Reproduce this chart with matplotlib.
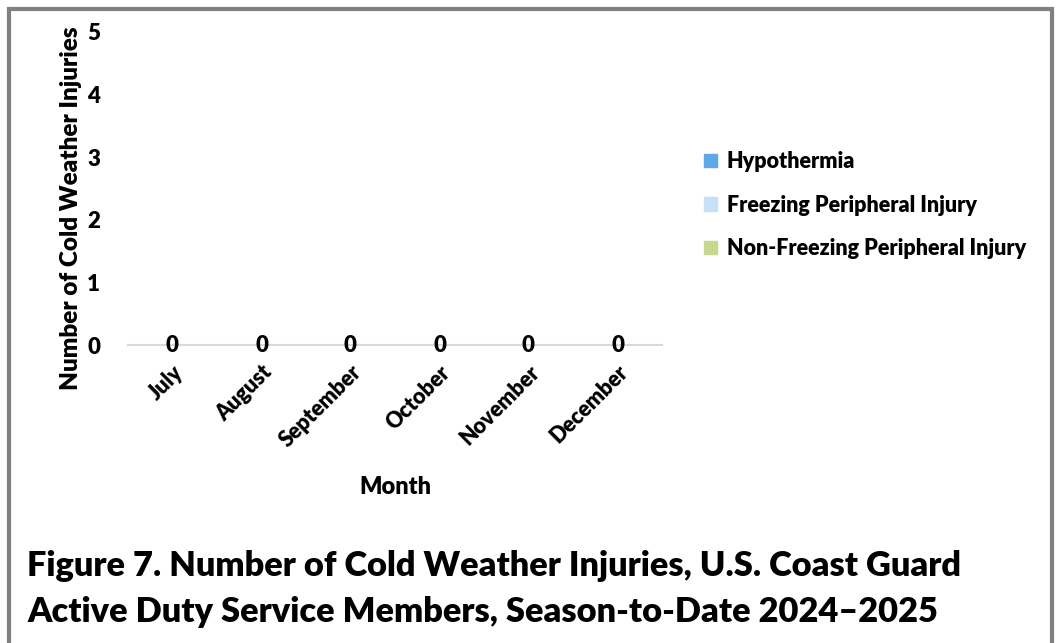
import matplotlib
matplotlib.use("Agg")
import matplotlib.pyplot as plt
from matplotlib.patches import Rectangle
import numpy as np

months = ["July", "August", "September", "October", "November", "December"]
series_names = ["Hypothermia", "Freezing Peripheral Injury", "Non-Freezing Peripheral Injury"]
hypothermia = [0, 0, 0, 0, 0, 0]
freezing = [0, 0, 0, 0, 0, 0]
non_freezing = [0, 0, 0, 0, 0, 0]
totals = [0, 0, 0, 0, 0, 0]
colors = ["#5fa8e8", "#c6e0f7", "#c5d98f"]

main = "Lato"
WEIGHT = "heavy"

fig = plt.figure(figsize=(10.58, 6.43), dpi=100)
W, H = 1058, 643
renderer = fig.canvas.get_renderer()


def fx(px):
    return px / W


def fy(py):
    return 1 - py / H


def fit(t, target, vertical=False):
    for _ in range(3):
        bb = t.get_window_extent(renderer)
        cur = bb.height if vertical else bb.width
        t.set_fontsize(t.get_fontsize() * target / cur)


ax = fig.add_axes([fx(128), fy(345), fx(662) - fx(128), fy(32) - fy(345)])

x = np.arange(len(months))
bw = 0.22
for i, (vals, c, n) in enumerate(zip([hypothermia, freezing, non_freezing], colors, series_names)):
    ax.bar(x + (i - 1) * bw, vals, bw, color=c, label=n)

for xi, t in zip(x, totals):
    ax.text(xi, t, str(t), ha="center", va="center", fontsize=16, fontweight=WEIGHT, family=main)

ax.set_xlim(-0.5, len(months) - 0.5)
ax.set_ylim(0, 5)
ax.set_yticks(range(0, 6))
ax.set_yticklabels([str(v) for v in range(0, 6)], fontsize=16, fontweight=WEIGHT, family=main)
ax.set_xticks(x)
ax.set_xticklabels(months, rotation=45, ha="right", rotation_mode="anchor",
                   fontsize=15.5, fontweight=WEIGHT, family=main)
ax.tick_params(axis="both", length=0)
ax.tick_params(axis="y", pad=20)
ax.tick_params(axis="x", pad=12)
for s in ["top", "right", "left"]:
    ax.spines[s].set_visible(False)
ax.spines["bottom"].set_color("#d9d9d9")
ax.spines["bottom"].set_linewidth(1.5)
ax.spines["bottom"].set_zorder(0)

yl = fig.text(fx(71), fy(208), "Number of Cold Weather Injuries", rotation=90, ha="center", va="center",
              fontsize=17.5, fontweight=WEIGHT, family=main)
ml = fig.text(fx(395), fy(487), "Month", ha="center", va="center", fontsize=15, fontweight=WEIGHT, family=main)
fit(ml, 72)

handles = [Rectangle((0, 0), 1, 1, color=c) for c in colors]
leg = fig.legend(handles, series_names, loc="upper left", bbox_to_anchor=(fx(704), fy(151)),
                 frameon=False, handlelength=0.6, handleheight=0.6, handletextpad=0.45,
                 labelspacing=1.05, borderaxespad=0, borderpad=0,
                 prop={"family": main, "weight": WEIGHT, "size": 15.5})

t1 = fig.text(fx(27), fy(566), "Figure 7. Number of Cold Weather Injuries, U.S. Coast Guard",
              ha="left", va="center", fontsize=25, fontweight=WEIGHT, family=main)
fit(t1, 936)
t2 = fig.text(fx(27), fy(612), "Active Duty Service Members, Season-to-Date 2024\u20132025",
              ha="left", va="center", fontsize=t1.get_fontsize(), fontweight=WEIGHT, family=main)

border = Rectangle((fx(9), fy(660)), fx(1052) - fx(9), fy(9) - fy(660), transform=fig.transFigure,
                   fill=False, edgecolor="#808080", linewidth=3)
fig.patches.append(border)

fig.savefig("out.png", dpi=100)
